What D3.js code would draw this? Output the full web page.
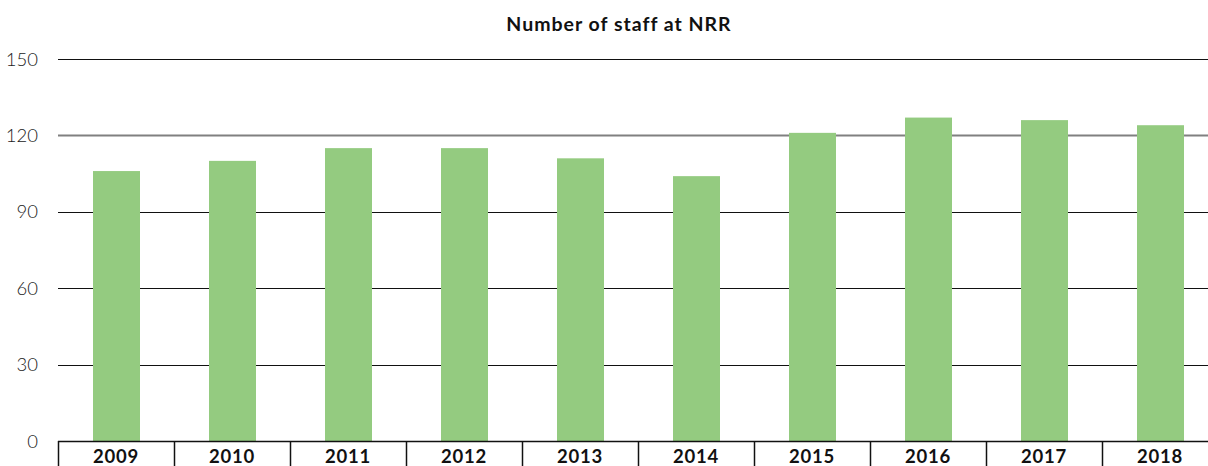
<!DOCTYPE html>
<html>
<head>
<meta charset="utf-8">
<script src="https://cdn.jsdelivr.net/npm/d3@7"></script>
<style>
  body { margin: 0; background: #fff; }
  svg { display: block; font-family: Lato, "Open Sans", sans-serif; }
</style>
</head>
<body>
<svg id="chart" width="1208" height="466"></svg>
<script>
// data
var years = ["2009", "2010", "2011", "2012", "2013", "2014", "2015", "2016", "2017", "2018"];
var staff = [106, 110, 115, 115, 111, 104, 121, 127, 126, 124];
var yTicks = [0, 30, 60, 90, 120, 150];

(function() {
  var svg = d3.select("#chart");
  // plot runs a bit past the right edge, like the reference
  var pLeft = 58, pRight = 1218, pTop = 59, pBottom = 441;

  var x = d3.scaleBand().domain(years).range([pLeft, pRight]).paddingInner(0).paddingOuter(0);
  var y = d3.scaleLinear().domain([0, 150]).range([pBottom, pTop]);
  var barW = 47;

  // title
  svg.append("text")
    .attr("x", 619).attr("y", 31)
    .attr("text-anchor", "middle")
    .style("font-size", "19.5px").style("font-weight", "bold").style("fill", "#111")
    .style("letter-spacing", "1px")
    .text("Number of staff at NRR");

  // grid lines
  svg.append("g").selectAll("line")
    .data(yTicks.filter(function(d){ return d > 0; }))
    .enter().append("line")
    .attr("x1", pLeft).attr("x2", pRight)
    .attr("y1", function(d){ return Math.round(y(d)) + 0.5; })
    .attr("y2", function(d){ return Math.round(y(d)) + 0.5; })
    .attr("stroke", function(d){ return d === 120 ? "#808080" : "#111"; })
    .attr("stroke-width", function(d){ return d === 120 ? 2 : 1.2; });

  // y labels
  svg.append("g").selectAll("text")
    .data(yTicks)
    .enter().append("text")
    .attr("x", 38).attr("y", function(d){ return y(d) + 6.5; })
    .attr("text-anchor", "end")
    .style("font-size", "18.5px").style("font-weight", "300").style("fill", "#222")
    .text(function(d){ return d; });

  // bars
  svg.append("g").selectAll("rect")
    .data(years)
    .enter().append("rect")
    .attr("x", function(d){ return Math.round(x(d) + x.bandwidth() / 2 - barW / 2); })
    .attr("width", barW)
    .attr("y", function(d, i){ return y(staff[i]); })
    .attr("height", function(d, i){ return y(0) - y(staff[i]); })
    .attr("fill", "#94cb80");

  // baseline + category dividers
  svg.append("line")
    .attr("x1", pLeft).attr("x2", pRight)
    .attr("y1", pBottom + 0.5).attr("y2", pBottom + 0.5)
    .attr("stroke", "#111").attr("stroke-width", 1.5);

  svg.append("g").selectAll("line")
    .data(years)
    .enter().append("line")
    .attr("x1", function(d){ return Math.round(x(d)) + 0.5; })
    .attr("x2", function(d){ return Math.round(x(d)) + 0.5; })
    .attr("y1", pBottom).attr("y2", 466)
    .attr("stroke", "#111").attr("stroke-width", 1.5);

  // x labels
  svg.append("g").selectAll("text")
    .data(years)
    .enter().append("text")
    .attr("x", function(d){ return x(d) + x.bandwidth() / 2; })
    .attr("y", 463)
    .attr("text-anchor", "middle")
    .style("font-size", "18.5px").style("font-weight", "bold").style("fill", "#111")
    .style("letter-spacing", "0.8px")
    .text(function(d){ return d; });
})();
</script>
</body>
</html>
